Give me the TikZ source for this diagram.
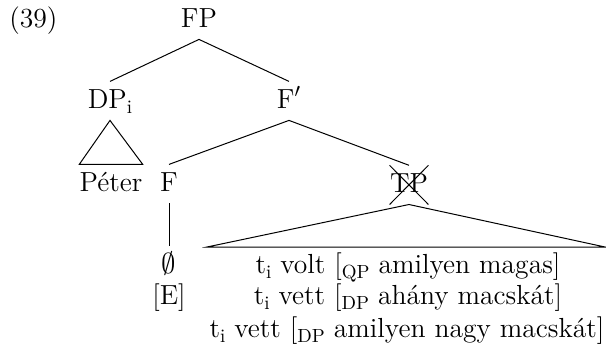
\documentclass[tikz,border=0pt]{standalone}
\usetikzlibrary{shapes.misc}
\newcommand\sbs[1]{\raisebox{-2.8pt}{\fontsize{9.5}{9.5}\selectfont #1}}
\begin{document}
\begin{tikzpicture}[x=0.5pt,y=-0.5pt,
  lab/.style={anchor=base, inner xsep=1pt, inner ysep=4.5pt,
    text height=8.6pt, text depth=1.5pt, font=\fontsize{13.8}{16}\selectfont},
  edge/.style={draw, line width=0.5pt}]
\useasboundingbox (0,0) rectangle (606,355);
\node[lab, anchor=base west] (ex) at (7,27) {(39)};
\node[lab] (FP) at (199,27) {FP};
\node[lab] (DP) at (110,108) {DP\sbs{i}};
\node[lab] (F1) at (289,108) {F$'$};
\node[lab, inner xsep=0pt] (Pe) at (111,191) {Péter};
\node[lab] (F) at (169,191) {F};
\node[lab, cross out, draw, line width=0.5pt, inner xsep=0pt, minimum width=17pt] (TP) at (409,192) {TP};
\node[lab] (E0) at (169,273) {$\emptyset$};
\node[lab] (E) at (169,304) {[E]};
\node[lab] (L1) at (408,273) {t\sbs{i} volt [\sbs{QP} amilyen magas]};
\node[lab] (L2) at (408,304) {t\sbs{i} vett [\sbs{DP} ahány macskát]};
\node[lab] (L3) at (407,337) {t\sbs{i} vett [\sbs{DP} amilyen nagy macskát]};
\coordinate (bl) at (207,247);
\coordinate (br) at (605,247);
\path[edge] (FP.south) -- (DP.north);
\path[edge] (FP.south) -- (F1.north);
\path[edge] (DP.south) -- (Pe.north west) -- (Pe.north east) -- cycle;
\path[edge] (F1.south) -- (F.north);
\path[edge] (F1.south) -- (TP.north);
\path[edge] (F.south) -- (E0.north);
\path[edge] (TP.south) -- (bl) -- (br) -- cycle;
\end{tikzpicture}
\end{document}
